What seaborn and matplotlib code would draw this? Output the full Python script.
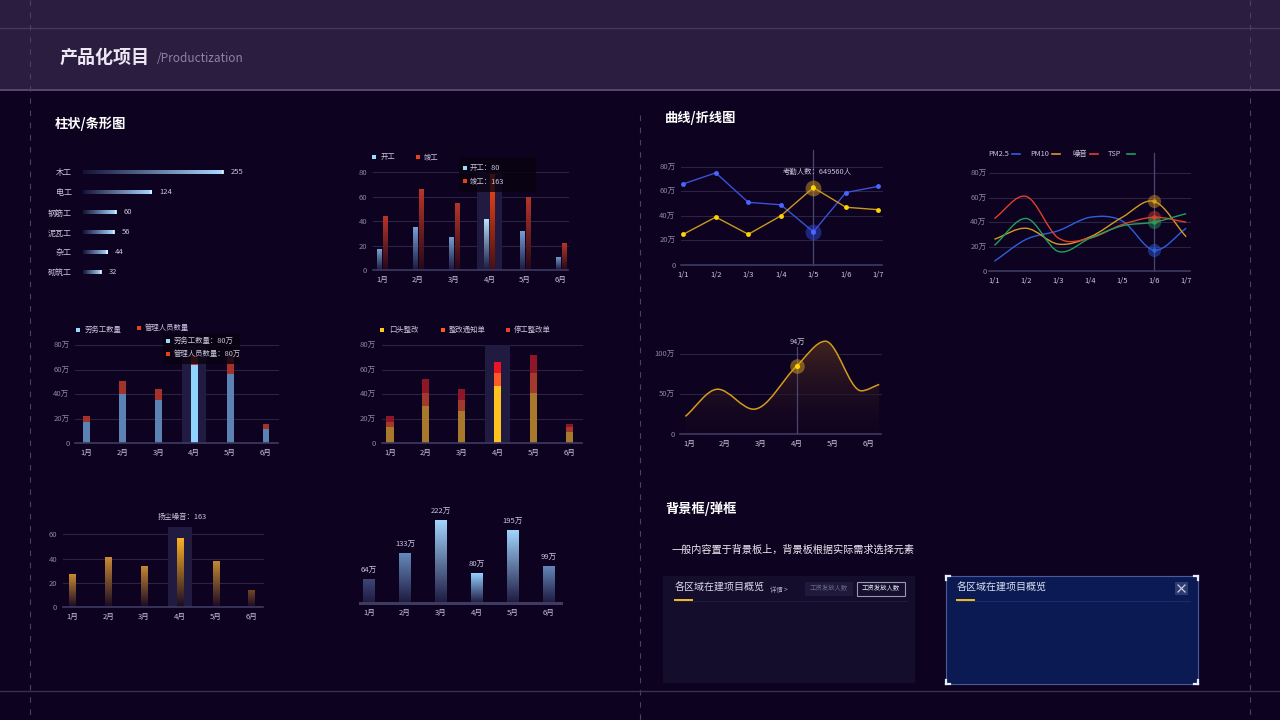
import numpy as np
import pandas as pd
import matplotlib
matplotlib.use('Agg')
import matplotlib.pyplot as plt
import seaborn as sns
from matplotlib.path import Path
from matplotlib.patches import PathPatch, Rectangle
from matplotlib.colors import LinearSegmentedColormap

# ---------------- data ----------------
work_types = ['木工', '电工', '钢筋工', '泥瓦工', '杂工', '砌筑工']
work_counts = [255, 124, 60, 56, 44, 32]

months = ['1月', '2月', '3月', '4月', '5月', '6月']
start_work = [17, 35, 27, 42, 32, 11]
finish_work = [44, 66, 55, 79, 60, 22]

days = ['1/1', '1/2', '1/3', '1/4', '1/5', '1/6', '1/7']
attend_blue = [66, 75, 51, 49, 27, 59, 64]
attend_yellow = [25, 39, 25, 40, 63, 47, 45]

pm25 = [8, 26, 33, 44, 41, 17, 35]
pm10 = [26, 35, 22, 28, 44, 57, 28]
noise = [43, 61, 27, 27, 38, 44, 40]
tsp = [21, 43, 16, 27, 37, 40, 47]

labour = [17, 40, 35, 64, 56, 12]
manager = [5, 11, 9, 8, 15, 4]

verbal = [13, 30, 26, 47, 41, 9]
notice = [4, 11, 9, 10, 16, 4]
stop = [5, 11, 9, 9, 15, 3]

area_pos = [-0.1, 0.8, 1.8, 3.0, 3.8, 4.8, 5.3]
area_vals = [22, 56, 31, 85, 116, 54, 62]

dust = [27, 41, 34, 57, 38, 14]
amount = [64, 133, 222, 80, 195, 99]

# ---------------- style ----------------
plt.rcParams['font.family'] = ['Noto Sans CJK SC', 'DejaVu Sans']
plt.rcParams['axes.unicode_minus'] = False

BG = '#0d0220'
GRID = '#2a2342'
AXIS = '#3e3a62'
TICK = '#8a86a6'
LABEL = '#c9c6dc'
HL = '#211b42'

W, H = 1280, 720
fig = plt.figure(figsize=(12.8, 7.2), dpi=100, facecolor=BG)

bg = fig.add_axes([0, 0, 1, 1])
bg.set_xlim(0, W); bg.set_ylim(H, 0); bg.axis('off')


def px_axes(x0, y0, x1, y1):
    ax = fig.add_axes([x0 / W, 1 - y1 / H, (x1 - x0) / W, (y1 - y0) / H])
    ax.set_facecolor('none')
    for s in ax.spines.values():
        s.set_visible(False)
    return ax


def grad_fill(ax, patch, c0, c1, horizontal=False):
    x, y = patch.get_x(), patch.get_y()
    w, h = patch.get_width(), patch.get_height()
    cmap = LinearSegmentedColormap.from_list('g', [c0, c1])
    img = np.linspace(0, 1, 64).reshape(1, -1) if horizontal else np.linspace(0, 1, 64).reshape(-1, 1)
    im = ax.imshow(img, cmap=cmap, aspect='auto', origin='lower',
                   extent=(x, x + w, y, y + h), zorder=patch.get_zorder(), interpolation='bilinear')
    im.set_clip_path(patch)
    patch.set_facecolor('none')
    patch.set_edgecolor('none')


def style(ax, xlim, ylim, yticks=None, ylabels=None, base_lw=1.2):
    ax.set_xlabel(''); ax.set_ylabel('')
    ax.tick_params(length=0, labelsize=5.5, pad=4)
    ax.tick_params(axis='x', labelcolor=LABEL)
    ax.tick_params(axis='y', labelcolor=TICK)
    if yticks is None:
        ax.set_yticks([])
    else:
        ax.set_yticks(yticks)
        ax.set_yticklabels(ylabels)
        for v in yticks[1:]:
            ax.axhline(v, color=GRID, lw=0.8, zorder=0.5, clip_on=False)
    ax.axhline(0, color=AXIS, lw=base_lw, zorder=5, clip_on=False)
    ax.set_xlim(*xlim); ax.set_ylim(*ylim)


def smooth_path(xs, ys, flat_extrema=False):
    xs = np.asarray(xs, float); ys = np.asarray(ys, float)
    n = len(xs)
    m = np.zeros(n)
    for i in range(n):
        a, b = max(i - 1, 0), min(i + 1, n - 1)
        m[i] = (ys[b] - ys[a]) / (xs[b] - xs[a])
        if flat_extrema and 0 < i < n - 1 and (ys[i] - ys[i - 1]) * (ys[i + 1] - ys[i]) <= 0:
            m[i] = 0
    verts = [(xs[0], ys[0])]
    codes = [Path.MOVETO]
    for i in range(n - 1):
        h = xs[i + 1] - xs[i]
        verts += [(xs[i] + h / 3, ys[i] + m[i] * h / 3),
                  (xs[i + 1] - h / 3, ys[i + 1] - m[i + 1] * h / 3),
                  (xs[i + 1], ys[i + 1])]
        codes += [Path.CURVE4] * 3
    return verts, codes


# ---------------- frame / background ----------------
bg.add_patch(Rectangle((0, 0), W, 90, color='#2a1d3f', lw=0))
bg.plot([0, W], [28, 28], color='#44385c', lw=1)
bg.plot([0, W], [89.5, 89.5], color='#5a4d72', lw=1.3)
for xx in (30, 1250):
    bg.plot([xx, xx], [0, H], color='#4a4262', lw=0.8, ls=(0, (5, 6)))
bg.plot([640, 640], [115, H], color='#4a4262', lw=0.8, ls=(0, (5, 6)))
bg.plot([0, W], [690.5, 690.5], color='#3a3052', lw=1)

# ---------------- chart 1: horizontal bars ----------------
ax1 = px_axes(83, 162, 263, 282)
sns.barplot(x=work_counts, y=work_types, orient='h', color='#8fc4f4', width=0.2,
            errorbar=None, ax=ax1)
for p in list(ax1.patches):
    grad_fill(ax1, p, '#141438', '#a9d8ff', horizontal=True)
    xe = p.get_x() + p.get_width()
    ax1.plot([xe, xe], [p.get_y(), p.get_y() + p.get_height()], color='#e6f6ff', lw=1.2,
             solid_capstyle='butt')
for i, v in enumerate(work_counts):
    ax1.annotate(str(v), (v, i), xytext=(8, 0), textcoords='offset pixels', va='center',
                 ha='left', fontsize=5.5, color=LABEL)
ax1.set_xlabel(''); ax1.set_ylabel('')
ax1.set_xticks([])
ax1.tick_params(axis='y', length=0, pad=8, labelsize=5.8, labelcolor=LABEL)
ax1.set_xlim(0, max(work_counts) * 180 / 140)
ax1.set_ylim(5.5, -0.5)

# ---------------- chart 2: grouped bars ----------------
ax2 = px_axes(372.7, 172.3, 568.1, 270.3)
df2 = pd.DataFrame({'月份': months * 2, '数量': start_work + finish_work,
                    '类型': ['开工'] * 6 + ['竣工'] * 6})
ax2.axvspan(3 - 0.34, 3 + 0.34, color=HL, lw=0, zorder=1)
n0 = len(ax2.patches)
sns.barplot(data=df2, x='月份', y='数量', hue='类型', palette=['#7fa6da', '#c0392b'],
            width=0.34, gap=0.3, legend=False, errorbar=None, ax=ax2, zorder=2)
for i, p in enumerate(list(ax2.patches)[n0:]):
    s, m = divmod(i, 6)
    if s == 0:
        grad_fill(ax2, p, '#1a1a40', '#b8e6ff' if m == 3 else '#7aa0d4')
    else:
        grad_fill(ax2, p, '#4a1010' if m == 3 else '#26081a', '#ff4a1a' if m == 3 else '#b8352a')
style(ax2, (-0.27, 5.2), (0, 80), [0, 20, 40, 60, 80], ['0', '20', '40', '60', '80'])

# ---------------- chart 3: line chart ----------------
ax3 = px_axes(681, 166.7, 882.3, 265)
xi = list(range(len(days)))
sns.lineplot(x=xi, y=attend_blue, color='#3a52d6', lw=1, marker='o', markersize=3.5,
             markeredgewidth=0, markerfacecolor='#4a66ff', ax=ax3, zorder=3)
sns.lineplot(x=xi, y=attend_yellow, color='#c89a1c', lw=1, marker='o', markersize=3.5,
             markeredgewidth=0, markerfacecolor='#ffd400', ax=ax3, zorder=3)
ax3.axvline(4, ymin=0, ymax=1 + (166.7 - 150) / 98.3, color='#4a4670', lw=0.9, clip_on=False, zorder=2)
ax3.scatter([4], [attend_blue[4]], s=130, color='#3550e8', alpha=0.45, lw=0, zorder=4)
ax3.scatter([4], [attend_yellow[4]], s=130, color='#d09a20', alpha=0.5, lw=0, zorder=4)
ax3.scatter([4, 4], [attend_blue[4], attend_yellow[4]], s=12, color=['#4a66ff', '#ffd400'], lw=0, zorder=5)
ax3.set_xticks(xi); ax3.set_xticklabels(days)
style(ax3, (-0.07, 6.12), (0, 80), [0, 20, 40, 60, 80], ['0', '20万', '40万', '60万', '80万'])

# ---------------- chart 4: smooth multi-line ----------------
ax4 = px_axes(989.3, 173.3, 1190, 271)
series4 = [('PM2.5', pm25, '#2e5ee0'), ('PM10', pm10, '#d69a20'),
           ('噪音', noise, '#e0402a'), ('TSP', tsp, '#1fa060')]
for name, vals, col in series4:
    v, c = smooth_path(xi, vals)
    ax4.add_patch(PathPatch(Path(v, c), facecolor='none', edgecolor=col, lw=1, zorder=3))
ax4.axvline(5, ymin=0, ymax=1 + (173.3 - 152.7) / 97.7, color='#4a4670', lw=0.9, clip_on=False, zorder=2)
for name, vals, col in series4:
    ax4.scatter([5], [vals[5]], s=90, color=col, alpha=0.45, lw=0, zorder=4)
    ax4.scatter([5], [vals[5]], s=10, color=col, lw=0, zorder=5)
ax4.set_xticks(xi); ax4.set_xticklabels(days)
style(ax4, (-0.16, 6.12), (0, 80), [0, 20, 40, 60, 80], ['0', '20万', '40万', '60万', '80万'])
ax4.tick_params(axis='y', pad=2)

# ---------------- chart 5: stacked bars ----------------
ax5 = px_axes(75, 345, 277.7, 443.3)
ax5.axvspan(3 - 0.335, 3 + 0.335, color=HL, lw=0, zorder=1)
top5 = [a + b for a, b in zip(labour, manager)]
sns.barplot(x=months, y=top5, hue=months, palette=['#a3322a'] * 3 + ['#c23a2c'] + ['#a3322a'] * 2,
            width=0.19, legend=False, errorbar=None, ax=ax5, zorder=2, saturation=1)
sns.barplot(x=months, y=labour, hue=months, palette=['#5b82b3'] * 3 + ['#8fd4ff'] + ['#5b82b3'] * 2,
            width=0.19, legend=False, errorbar=None, ax=ax5, zorder=3, saturation=1)
ax5.set_xticks(range(6)); ax5.set_xticklabels(months)
style(ax5, (-0.326, 5.326), (0, 80), [0, 20, 40, 60, 80], ['0', '20万', '40万', '60万', '80万'])

# ---------------- chart 6: three-layer stacked bars ----------------
ax6 = px_axes(381.7, 345, 581.7, 443.3)
ax6.axvspan(3 - 0.34, 3 + 0.34, color=HL, lw=0, zorder=1)
l2 = [a + b for a, b in zip(verbal, notice)]
l3 = [a + b for a, b in zip(l2, stop)]
for vals, base, hi, z in [(l3, '#8e1626', '#ee1424', 2), (l2, '#a3392c', '#ff5a24', 3),
                          (verbal, '#a8782c', '#ffc21e', 4)]:
    sns.barplot(x=months, y=vals, hue=months, palette=[base] * 3 + [hi] + [base] * 2,
                width=0.2, legend=False, errorbar=None, ax=ax6, zorder=z, saturation=1)
ax6.set_xticks(range(6)); ax6.set_xticklabels(months)
style(ax6, (-0.23, 5.35), (0, 80), [0, 20, 40, 60, 80], ['0', '20万', '40万', '60万', '80万'])

# ---------------- chart 7: smooth area ----------------
ax7 = px_axes(680, 330, 881, 434)
v7, c7 = smooth_path(area_pos, area_vals, flat_extrema=True)
area = PathPatch(Path(v7 + [(area_pos[-1], 0), (area_pos[0], 0), v7[0]],
                      c7 + [Path.LINETO, Path.LINETO, Path.CLOSEPOLY]),
                 facecolor='none', edgecolor='none', zorder=2)
ax7.add_patch(area)
cmap7 = LinearSegmentedColormap.from_list('a', [(0.09, 0.03, 0.14, 0.3), (0.25, 0.14, 0.12, 1.0)])
im7 = ax7.imshow(np.linspace(0, 1, 64).reshape(-1, 1), cmap=cmap7, aspect='auto', origin='lower',
                 extent=(area_pos[0], area_pos[-1], 0, max(area_vals)), zorder=2)
im7.set_clip_path(area)
ax7.add_patch(PathPatch(Path(v7, c7), facecolor='none', edgecolor='#d49a1a', lw=1.1, zorder=3))
ax7.axvline(3, ymin=0, ymax=109 / 130, color='#4a4670', lw=0.9, zorder=2)
ax7.scatter([3], [area_vals[3]], s=110, color='#d4a020', alpha=0.5, lw=0, zorder=4)
ax7.scatter([3], [area_vals[3]], s=14, color='#ffd400', lw=0, zorder=5)
ax7.set_xticks(range(6)); ax7.set_xticklabels(months)
style(ax7, (-0.25, 5.35), (0, 130), [0, 50, 100], ['0', '50万', '100万'])

# ---------------- chart 8: single bars ----------------
ax8 = px_axes(62.7, 527, 263.3, 607.3)
ax8.bar([3], [65.7], width=0.67, color=HL, lw=0, zorder=1)
n8 = len(ax8.patches)
sns.barplot(x=months, y=dust, color='#c88a30', width=0.19, errorbar=None, ax=ax8, zorder=2)
for i, p in enumerate(list(ax8.patches)[n8:]):
    grad_fill(ax8, p, '#1a0a24', '#ffb424' if i == 3 else ('#7a4a28' if i == 5 else '#c88a34'))
ax8.set_xticks(range(6)); ax8.set_xticklabels(months)
style(ax8, (-0.27, 5.32), (0, 66), [0, 20, 40, 60], ['0', '20', '40', '60'])

# ---------------- chart 9: value-labelled bars ----------------
ax9 = px_axes(360, 510, 560.7, 603.3)
sns.barplot(x=months, y=amount, color='#8fc4f4', width=0.31, errorbar=None, ax=ax9, zorder=2)
tops9 = ['#3e4678', '#6688bb', '#a2d6ff', '#94d0ff', '#a2d6ff', '#6688bb']
for i, p in enumerate(list(ax9.patches)):
    grad_fill(ax9, p, '#1e1a40', tops9[i])
for i, v in enumerate(amount):
    ax9.annotate(f'{v}万', (i, v), xytext=(0, 4), textcoords='offset pixels', ha='center',
                 va='bottom', fontsize=5.5, color=LABEL)
ax9.set_xticks(range(6)); ax9.set_xticklabels(months)
style(ax9, (-0.25, 5.325), (0, 248.8), base_lw=2.2)

# ---------------- overlay: titles, legends, tooltips, boxes ----------------
top = fig.add_axes([0, 0, 1, 1])
top.set_xlim(0, W); top.set_ylim(H, 0); top.axis('off'); top.set_facecolor('none')


def T(x, y, s, size=5.3, color=LABEL, **kw):
    kw.setdefault('va', 'center')
    top.text(x, y, s, fontsize=size, color=color, **kw)


def sq(x, y, c, s=3.5):
    top.add_patch(Rectangle((x - s / 2, y - s / 2), s, s, color=c, lw=0))


T(60, 57, '产品化项目', 13, '#ece8f4', fontweight='bold')
T(157, 58, '/Productization', 8.5, '#8c84a4')
T(55, 124, '柱状/条形图', 9.5, '#ffffff', fontweight='bold')
T(665, 118, '曲线/折线图', 9.5, '#ffffff', fontweight='bold')
T(665, 509, '背景框/弹框', 9.5, '#ffffff', fontweight='bold')

# chart 2 legend + tooltip
sq(374, 157, '#9fd8ff'); T(381, 157, '开工')
sq(418, 157, '#e8401c'); T(424, 157, '竣工')
top.add_patch(Rectangle((459, 157), 77, 35, color='#08020f', alpha=0.8, lw=0))
sq(465, 168, '#9fd8ff'); T(470, 168, '开工：80')
sq(465, 181, '#e8401c'); T(470, 181, '竣工：163')

# chart 3 tooltip
T(817, 172, '考勤人数：649560人', ha='center')

# chart 4 legend
for tx, lx, (name, vals, col) in zip([988, 1030, 1072, 1108], [1012, 1052, 1090, 1127], series4):
    T(tx, 154, name)
    top.plot([lx, lx + 8], [154, 154], color=col, lw=1.2)

# chart 5 legend + tooltip
sq(78, 330, '#9fd8ff'); T(85, 330, '劳务工数量')
sq(139, 328, '#e8401c'); T(145, 328, '管理人员数量')
top.add_patch(Rectangle((163, 334), 77, 30, color='#08020f', alpha=0.8, lw=0))
sq(168, 341, '#9fd8ff'); T(174, 341, '劳务工数量：80万')
sq(168, 354, '#e8401c'); T(174, 354, '管理人员数量：80万')

# chart 6 legend
sq(382, 330, '#ffc81e'); T(389, 330, '口头整改')
sq(443, 330, '#ff5a1e'); T(449, 330, '整改通知单')
sq(508, 330, '#e8402a'); T(514, 330, '停工整改单')

# chart 7 / 8 labels
T(797, 342, '94万', ha='center')
T(182, 517, '扬尘噪音：163', ha='center')

# description
T(672, 550, '一般内容置于背景板上，背景板根据实际需求选择元素', 7.3, '#f0eef6')

# box 1
top.add_patch(Rectangle((663, 576), 252, 107, color='#140d2c', lw=0))
T(675, 588, '各区域在建项目概览', 7.2, '#d8d6ea')
T(770, 590, '详情 >', 4.6, '#b0acc8')
top.add_patch(Rectangle((805, 581.5), 48, 14, color='#1f1a3c', lw=0))
T(829, 588.5, '工资发放人数', 4.6, '#6a6688', ha='center')
top.add_patch(Rectangle((857, 581.5), 48, 14, facecolor='#151030', edgecolor='#9a98b0', lw=0.8))
T(881, 588.5, '工资发放人数', 4.6, '#e6e6f2', ha='center')
top.plot([675, 907], [600.5, 600.5], color='#221b3e', lw=0.8)
top.plot([675, 692], [600, 600], color='#f0c020', lw=1.4)

# box 2
top.add_patch(Rectangle((946, 576), 252, 108, facecolor='#0b1a52', edgecolor='#4a5a9c', lw=0.8))
for cx, cy, dx, dy in [(946, 576, 1, 1), (1198, 576, -1, 1), (946, 684, 1, -1), (1198, 684, -1, -1)]:
    top.plot([cx, cx + 4 * dx], [cy, cy], color='#e8ecf8', lw=1.6)
    top.plot([cx, cx], [cy, cy + 4 * dy], color='#e8ecf8', lw=1.6)
T(957, 588, '各区域在建项目概览', 7.2, '#d8dcf0')
top.add_patch(Rectangle((1175, 582), 13, 13, color='#2c3c70', lw=0))
top.plot([1178, 1185], [585, 592], color='#c8d0e8', lw=0.9)
top.plot([1178, 1185], [592, 585], color='#c8d0e8', lw=0.9)
top.plot([957, 1190], [600.5, 600.5], color='#1c2c6a', lw=0.8)
top.plot([957, 974], [600, 600], color='#f0c020', lw=1.4)

fig.savefig('out.png', dpi=100, facecolor=BG)
